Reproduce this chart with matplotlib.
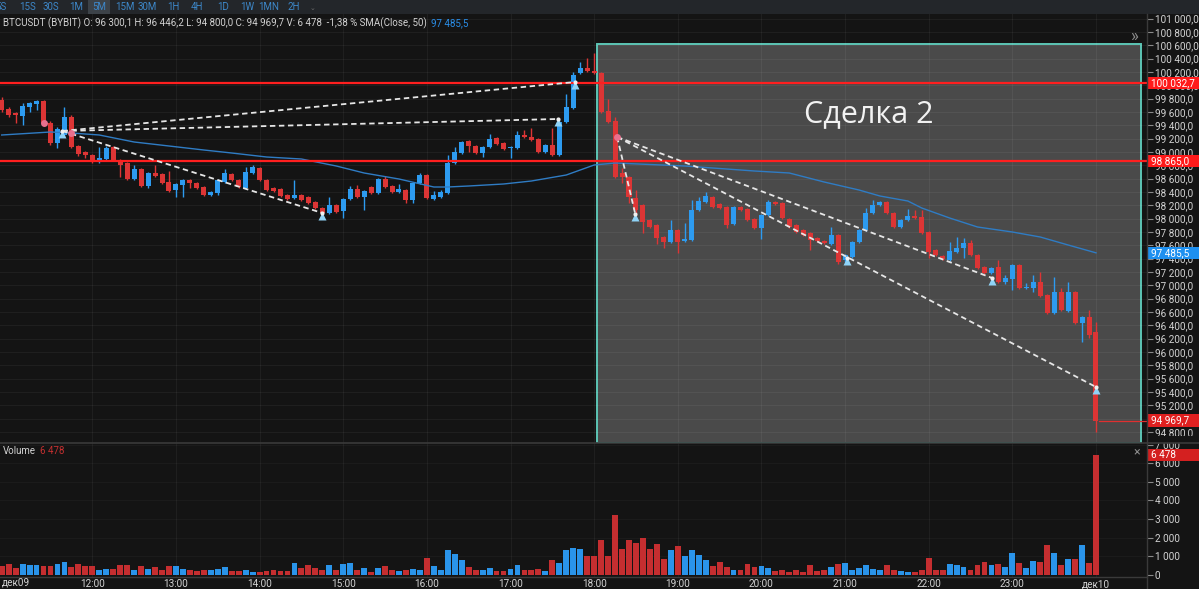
import numpy as np
import matplotlib
matplotlib.use("Agg")
import matplotlib.pyplot as plt
from matplotlib.patches import Rectangle
from matplotlib.lines import Line2D
from matplotlib.transforms import blended_transform_factory
from matplotlib.ticker import FuncFormatter

plt.rcParams['font.family'] = ['Roboto', 'DejaVu Sans']

# ---------------- data (5-minute candles, 10:55 -> 00:00) ----------------
opens = [99778, 99643, 99583, 99538, 99673, 99718, 99763, 99433, 99133, 99253,
         99523, 99088, 98998, 98953, 98848, 98893, 99073, 98878, 98833, 98593,
         98743, 98488, 98683, 98668, 98548, 98428, 98503, 98578, 98533, 98473,
         98353, 98383, 98548, 98668, 98578, 98458, 98683, 98758, 98578, 98458,
         98443, 98353, 98308, 98353, 98323, 98248, 98158, 98083, 98203, 98113,
         98293, 98443, 98323, 98473, 98383, 98593, 98488, 98398, 98428, 98278,
         98533, 98653, 98293, 98323, 98383, 98833, 98983, 99163, 99088, 98983,
         99073, 99208, 99133, 99058, 99058, 99253, 99223, 99193, 98998, 99103,
         98953, 99448, 99658, 100183, 100258, 100213, 100183, 99613, 99463, 98683,
         98623, 98308, 98203, 97978, 97903, 97723, 97648, 97828, 97663, 97678,
         98128, 98248, 98323, 98218, 98173, 97918, 98173, 98143, 97993, 97858,
         98053, 98248, 98233, 97993, 97903, 97828, 97783, 97708, 97663, 97618,
         97753, 97378, 97423, 97648, 97828, 98083, 98203, 98248, 98083, 97873,
         97978, 98038, 98023, 97798, 97528, 97438, 97378, 97498, 97558, 97633,
         97453, 97273, 97183, 97273, 97048, 97093, 97303, 96958, 96958, 97048,
         96853, 96583, 96898, 96613, 96898, 96433, 96523, 96300.1]
highs = [99823, 99673, 99598, 99733, 99748, 99778, 99778, 99463, 99373, 99673,
         99553, 99103, 99013, 98968, 99073, 99088, 99088, 98893, 98848, 98803,
         98758, 98698, 98803, 98683, 98713, 98533, 98593, 98593, 98548, 98488,
         98413, 98593, 98743, 98683, 98593, 98773, 98803, 98773, 98593, 98473,
         98458, 98368, 98578, 98368, 98338, 98263, 98173, 98323, 98218, 98308,
         98488, 98503, 98428, 98488, 98608, 98638, 98503, 98518, 98443, 98548,
         98683, 98668, 98413, 98428, 98953, 99073, 99163, 99178, 99103, 99088,
         99268, 99223, 99148, 99088, 99313, 99328, 99358, 99208, 99118, 99358,
         99493, 99868, 100198, 100348, 100408, 100483, 100198, 99793, 99523, 98758,
         98638, 98428, 98218, 97993, 97918, 97738, 97978, 97843, 97933, 98278,
         98323, 98398, 98338, 98233, 98188, 98188, 98188, 98158, 98008, 98068,
         98278, 98263, 98248, 98008, 97918, 97843, 97798, 97723, 97678, 97873,
         97768, 97468, 97663, 97843, 98158, 98278, 98263, 98263, 98098, 97993,
         98143, 98128, 98128, 97813, 97543, 97453, 97648, 97723, 97708, 97678,
         97468, 97288, 97273, 97378, 97153, 97318, 97318, 97033, 97153, 97198,
         96868, 97123, 96958, 97048, 96913, 96538, 96628, 96446.2]
lows = [99598, 99523, 99433, 99403, 99598, 99628, 99388, 99103, 99058, 99223,
        99058, 98938, 98908, 98833, 98833, 98878, 98863, 98623, 98578, 98578,
        98473, 98458, 98623, 98518, 98398, 98323, 98323, 98458, 98443, 98338,
        98338, 98353, 98533, 98563, 98458, 98443, 98668, 98563, 98413, 98398,
        98323, 98278, 98293, 98263, 98218, 98143, 98008, 98068, 98083, 98008,
        98278, 98308, 98128, 98368, 98368, 98458, 98383, 98383, 98233, 98233,
        98518, 98293, 98278, 98308, 98368, 98818, 98968, 98998, 98968, 98923,
        99058, 99103, 99028, 98908, 99043, 99208, 99163, 98983, 98983, 98938,
        98938, 99433, 99643, 100168, 100198, 100168, 99583, 99433, 98608, 98533,
        98233, 98083, 97783, 97858, 97618, 97558, 97633, 97483, 97648, 97663,
        98113, 98233, 98158, 98143, 97858, 97903, 98113, 97963, 97843, 97693,
        98038, 98203, 97993, 97858, 97783, 97738, 97528, 97648, 97618, 97603,
        97318, 97348, 97408, 97633, 97813, 98068, 98188, 98068, 97858, 97858,
        97963, 97993, 97768, 97408, 97438, 97378, 97363, 97483, 97408, 97438,
        97243, 97168, 97168, 97033, 97018, 96928, 96943, 96943, 96898, 96823,
        96568, 96568, 96613, 96598, 96418, 96148, 96208, 94800.0]
closes = [99628, 99553, 99553, 99688, 99733, 99763, 99433, 99133, 99343, 99523,
          99073, 98968, 98953, 98848, 98908, 99058, 98878, 98803, 98593, 98743,
          98488, 98683, 98638, 98533, 98413, 98518, 98578, 98533, 98458, 98353,
          98398, 98578, 98683, 98578, 98473, 98698, 98773, 98578, 98428, 98413,
          98338, 98293, 98353, 98278, 98233, 98158, 98083, 98203, 98098, 98293,
          98443, 98323, 98413, 98383, 98593, 98473, 98398, 98443, 98278, 98533,
          98653, 98308, 98353, 98398, 98833, 98998, 99148, 99088, 98983, 99073,
          99193, 99118, 99043, 99073, 99253, 99223, 99178, 98998, 99103, 98953,
          99448, 99673, 100153, 100258, 100213, 100183, 99598, 99448, 98623, 98623,
          98323, 98128, 97948, 97873, 97708, 97648, 97828, 97648, 97693, 98128,
          98263, 98338, 98173, 98158, 97903, 98173, 98128, 97978, 97858, 98053,
          98248, 98218, 98008, 97873, 97798, 97753, 97678, 97663, 97633, 97753,
          97348, 97453, 97648, 97828, 98083, 98203, 98248, 98083, 97873, 97978,
          98038, 98008, 97783, 97498, 97453, 97393, 97513, 97558, 97633, 97453,
          97258, 97183, 97258, 97048, 97108, 97303, 96958, 96973, 97048, 96838,
          96583, 96898, 96628, 96898, 96433, 96523, 96253, 94969.7]
volumes = [450, 570, 370, 570, 500, 500, 450, 450, 570, 680,
           410, 570, 480, 450, 270, 310, 310, 530, 520, 270,
           480, 310, 390, 220, 450, 480, 310, 220, 180, 220,
           220, 310, 400, 180, 180, 270, 130, 160, 180, 230,
           180, 180, 640, 340, 500, 360, 230, 500, 220, 570,
           640, 270, 360, 130, 360, 450, 270, 180, 220, 310,
           220, 880, 480, 270, 1300, 1120, 760, 410, 230, 270,
           360, 180, 180, 310, 540, 230, 230, 310, 180, 760,
           630, 1350, 1420, 1390, 990, 990, 1860, 990, 3230, 1390,
           1860, 1680, 1960, 1390, 1660, 850, 1350, 1530, 990, 1300,
           1060, 770, 450, 700, 410, 220, 220, 590, 410, 450,
           340, 180, 220, 130, 270, 130, 500, 180, 220, 430,
           560, 610, 270, 360, 500, 320, 270, 500, 220, 180,
           140, 130, 220, 900, 270, 230, 590, 500, 430, 270,
           520, 700, 490, 560, 380, 1170, 630, 360, 740, 670,
           1600, 1170, 490, 860, 860, 1570, 630, 6478]

# SMA(Close, 50) (candle index, value)
sma_idx = [0, 7, 10, 14, 19, 24, 29, 33, 38, 43, 48, 52, 57, 62, 64, 67, 72, 76,
           81, 85, 88, 98, 108, 113, 118, 123, 126, 130, 132, 136, 140, 145, 149, 153, 157]
sma_val = [99253, 99298, 99283, 99253, 99148, 99088, 99028, 98983, 98923, 98893,
           98788, 98683, 98593, 98473, 98473, 98488, 98518, 98563, 98653, 98803,
           98833, 98788, 98713, 98683, 98548, 98428, 98338, 98263, 98158, 98008,
           97873, 97798, 97723, 97603, 97485.5]

hour_idx = [13, 25, 37, 49, 61, 73, 85, 97, 109, 121, 133, 145, 157]
hour_labels = ['12:00', '13:00', '14:00', '15:00', '16:00', '17:00', '18:00',
               '19:00', '20:00', '21:00', '22:00', '23:00', 'дек10']

level_hi = 100032.7
level_lo = 98865.0

# trend lines: (start idx, start price, end idx, end price)
trend_x0 = [8.7, 8.7, 8.7, 88.3, 88.3, 88.3]
trend_y0 = [99313, 99313, 99313, 99223, 99223, 99223]
trend_x1 = [82.3, 79.8, 46.0, 90.9, 142.1, 157.0]
trend_y1 = [100048, 99493, 98083, 98068, 97108, 95473]

buy_x = [8.7, 46.0, 79.8, 82.3, 90.9, 121.3, 142.1, 157.0]
buy_y = [99313, 98083, 99493, 100048, 98068, 97408, 97108, 95473]
sell_x = [6.0, 10.0, 88.3]
sell_y = [99433, 99283, 99223]

# trade box (Сделка 2)
box_x = [85.4, 163.45]
box_y = [94633, 100618]

toolbar = ['5S', '15S', '30S', '1M', '5M', '15M', '30M', '1H', '4H', '1D', '1W', '1MN', '2H']
toolbar_px = [1, 28, 51, 76, 99, 125, 147, 173, 197, 223, 247, 269, 294]

# ---------------- styling ----------------
W, H = 1199, 589
BG = '#141414'
UP = '#2d9bf0'
DN = '#dc3535'
VUP = '#2a94ea'
VDN = '#c52e30'
TXT = '#d2d2d2'
SEP = '#3a3a3a'
GRID = (1, 1, 1, 0.05)


def fx(px):
    return px / W


def fy(py):
    return 1 - py / H


def fmt_price(v):
    return f"{v:,.1f}".replace(',', ' ').replace('.', ',')


def fmt_int(v):
    return f"{int(round(v)):,}".replace(',', ' ')


fig = plt.figure(figsize=(W / 100, H / 100), dpi=100, facecolor=BG)
AX_R = 1147
ax = fig.add_axes([0, fy(443), fx(AX_R), fy(14) - fy(443)], facecolor=BG)
vax = fig.add_axes([0, fy(577), fx(AX_R), fy(443) - fy(577)], facecolor=BG)

n = len(opens)
idx = np.arange(n)
o = np.array(opens, float)
h = np.array(highs, float)
l = np.array(lows, float)
c = np.array(closes, float)
up = c >= o

XL = (-1.7 / 6.97, (AX_R - 1.7) / 6.97)
ax.set_xlim(*XL)
ax.set_ylim(94633, 101068)
vax.set_xlim(*XL)
vax.set_ylim(-135, 7108)

for a in (ax, vax):
    for s in a.spines.values():
        s.set_visible(False)

# trade box
ax.add_patch(Rectangle((box_x[0], box_y[0]), box_x[1] - box_x[0], box_y[1] - box_y[0],
                       facecolor='#4a4a4a', edgecolor='#5cc5b5', lw=1.4, zorder=0.5,
                       clip_on=False))

# grid
price_ticks = np.arange(94800, 101001, 200)
for p in price_ticks:
    ax.axhline(p, color=GRID, lw=0.8, zorder=1)
for hi in hour_idx:
    ax.axvline(hi, color=GRID, lw=0.8, zorder=1)
    vax.axvline(hi, color=GRID, lw=0.8, zorder=1)
for v in range(1000, 7001, 1000):
    vax.axhline(v, color=(1, 1, 1, 0.03), lw=0.8, zorder=1)

# candles
cols = np.where(up, UP, DN)
ax.vlines(idx, l, h, colors=cols, lw=1.0, zorder=3)
body_b = np.minimum(o, c)
body_h = np.maximum(np.abs(c - o), 15)
ax.bar(idx, body_h, bottom=body_b, width=0.72, color=cols, linewidth=0, zorder=3.1)

# SMA
ax.plot(sma_idx, sma_val, color='#2f7cc4', lw=1.0, zorder=3.5)

# level lines
ax.axhline(level_hi, color='#ff1f1f', lw=1.6, zorder=4)
ax.axhline(level_lo, color='#ff1f1f', lw=1.6, zorder=4)
frac = (idx[-1] + 0.45 - XL[0]) / (XL[1] - XL[0])
ax.axhline(c[-1], xmin=frac, xmax=1, color='#e03030', lw=0.9, zorder=4)

# trend lines
for xa, ya, xb, yb in zip(trend_x0, trend_y0, trend_x1, trend_y1):
    ax.plot([xa, xb], [ya, yb], color='#e6e6e6', lw=1.3, ls=(0, (3, 2)), zorder=5)

ax.plot(buy_x, np.array(buy_y) - 50, '^', ms=6, color='#8fd3f7', mec='none', zorder=6)
ax.plot(buy_x, buy_y, 'o', ms=3, color='#f0f0f0', mec='none', zorder=6.5)
ax.plot(sell_x, sell_y, 'o', ms=5, color='#e8708e', mec='none', zorder=6)

# volume bars
vcols = np.where(up, VUP, VDN)
vax.bar(idx, volumes, width=0.84, color=vcols, linewidth=0, zorder=3)

# axes ticks
ax.yaxis.tick_right()
ax.set_yticks(price_ticks)
ax.yaxis.set_major_formatter(FuncFormatter(lambda v, p: fmt_price(v)))
ax.tick_params(axis='y', length=4, width=0.8, color='#8a8a8a', pad=1.5,
               labelsize=7.2, labelcolor=TXT)
ax.tick_params(axis='x', bottom=False, labelbottom=False)

vax.yaxis.tick_right()
vax.set_yticks(range(0, 7001, 1000))
vax.yaxis.set_major_formatter(FuncFormatter(lambda v, p: fmt_int(v)))
vax.tick_params(axis='y', length=4, width=0.8, color='#8a8a8a', pad=1.5,
                labelsize=7.2, labelcolor=TXT)
vax.set_xticks(hour_idx)
vax.set_xticklabels(hour_labels)
vax.tick_params(axis='x', length=0, pad=1.5, labelsize=7.2, labelcolor=TXT)

# price tags on the scale
tr = blended_transform_factory(ax.transAxes, ax.transData)
for val, col in [(level_hi, '#ff1a1a'), (level_lo, '#ff1a1a'),
                 (sma_val[-1], '#1e90f0'), (c[-1], '#e02020')]:
    ax.add_patch(Rectangle((1.0, val - 92), 52 / AX_R, 184, transform=tr,
                           facecolor=col, edgecolor='none', clip_on=False, zorder=10))
    ax.text(1.0 + 4 / AX_R, val, fmt_price(val), transform=tr, fontsize=7.2,
            color='white', va='center', ha='left', clip_on=False, zorder=11)
vtr = blended_transform_factory(vax.transAxes, vax.transData)
vax.add_patch(Rectangle((1.0, volumes[-1] - 330), 52 / AX_R, 660, transform=vtr,
                        facecolor='#d42020', edgecolor='none', clip_on=False, zorder=10))
vax.text(1.0 + 4 / AX_R, volumes[-1], fmt_int(volumes[-1]), transform=vtr, fontsize=7.2,
         color='white', va='center', ha='left', clip_on=False, zorder=11)

# separators
fig.add_artist(Rectangle((fx(AX_R), fy(443)), fx(W - AX_R), 7 / H,
                         transform=fig.transFigure, facecolor=BG, edgecolor='none', zorder=20))
fig.add_artist(Line2D([fx(AX_R), fx(AX_R)], [fy(14), 0], transform=fig.transFigure,
                      color=SEP, lw=1.0, zorder=21))
fig.add_artist(Line2D([0, 1], [fy(443), fy(443)], transform=fig.transFigure,
                      color=SEP, lw=1.2, zorder=21))
fig.add_artist(Line2D([0, fx(AX_R)], [fy(577), fy(577)], transform=fig.transFigure,
                      color=SEP, lw=1.0, zorder=21))

# toolbar
fig.add_artist(Rectangle((0, fy(14)), 1, 14 / H, transform=fig.transFigure,
                         facecolor='#23262a', edgecolor='none', zorder=20))
fig.add_artist(Rectangle((fx(88), fy(14)), fx(22), 14 / H, transform=fig.transFigure,
                         facecolor='#3c4248', edgecolor='none', zorder=20.5))
for lab, px in zip(toolbar, toolbar_px):
    fig.text(fx(px), fy(7), lab, fontsize=7, color='#3d87c8', ha='center',
             va='center', zorder=22)
fig.text(fx(312), fy(8), '⌄', fontsize=5, color='#6a6a6a', ha='center', va='center',
         zorder=22)

# header
chg = (c[-1] - o[-1]) / o[-1] * 100
head = (f"BTCUSDT (BYBIT) O: {fmt_price(o[-1])} H: {fmt_price(h[-1])} "
        f"L: {fmt_price(l[-1])} C: {fmt_price(c[-1])} V: {fmt_int(volumes[-1])}  "
        f"{chg:.2f} % SMA(Close, 50)".replace('.', ','))
t1 = fig.text(fx(3), fy(23), head, fontsize=7, color=TXT, ha='left', va='center', zorder=22)
ax.annotate(fmt_price(sma_val[-1]), xy=(1, 0.5), xycoords=t1, xytext=(3, 0),
            textcoords='offset points', fontsize=7, color='#2a8ee8', va='center',
            ha='left', annotation_clip=False, zorder=22)

fig.text(fx(3), fy(451), 'Volume', fontsize=7, color=TXT, ha='left', va='center', zorder=22)
fig.text(fx(40), fy(451), fmt_int(volumes[-1]), fontsize=7, color='#c43030',
         ha='left', va='center', zorder=22)
fig.text(fx(2), fy(582.5), 'дек09', fontsize=7.2, color=TXT, ha='left', va='center', zorder=22)

fig.text(fx(869), fy(114), 'Сделка 2', fontsize=22, color='#f2f2f2',
         family=['Open Sans', 'DejaVu Sans'], ha='center', va='center', zorder=22)
fig.text(fx(1134), fy(36), '»', fontsize=12, color='#8c8c8c', ha='center', va='center', zorder=22)
fig.text(fx(1137), fy(452), '×', fontsize=9, color='#8c8c8c', ha='center', va='center', zorder=22)

fig.savefig('out.png', dpi=100, facecolor=BG)
